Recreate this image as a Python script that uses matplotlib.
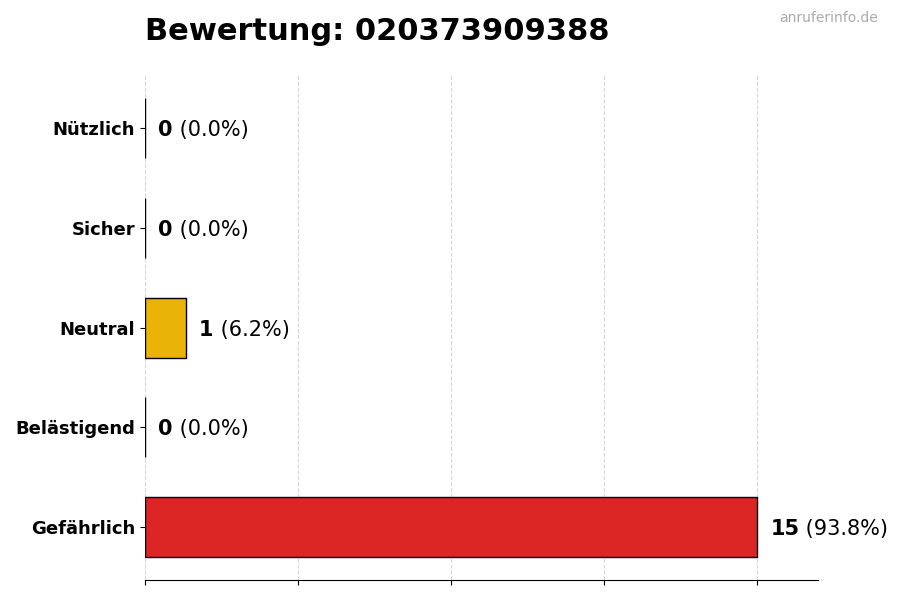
import matplotlib
matplotlib.use("Agg")
import numpy as np
import matplotlib.pyplot as plt

number = "020373909388"
categories = ["Gefährlich", "Belästigend", "Neutral", "Sicher", "Nützlich"]
counts = [15, 0, 1, 0, 0]
colors = ["#dc2626", "#f97316", "#eab308", "#84cc16", "#22c55e"]

total = sum(counts)
max_count = max(counts)

fig, ax = plt.subplots(figsize=(9, 6), dpi=100)
fig.subplots_adjust(left=0.161, right=0.909, top=0.875, bottom=0.033)

y = np.arange(len(categories))
ax.barh(y, counts, height=0.6, color=colors, edgecolor="black", linewidth=1, zorder=3)

# Label: bold count followed by the share in normal weight
for yi, c in zip(y, counts):
    pct = c / total * 100 if total else 0
    t = ax.text(c + max_count * 0.022, yi, str(c), va="center_baseline", ha="left",
                fontsize=15, fontweight="bold", zorder=4)
    ax.annotate(f" ({pct:.1f}%)", xy=(1, 0), xycoords=t, va="bottom", ha="left",
                fontsize=15)

ax.set_yticks(y)
ax.set_yticklabels(categories, fontsize=13, fontweight="bold")
ax.set_xlim(0, max_count * 1.1)
ax.set_xticks(np.linspace(0, max_count, 5))
ax.set_xticklabels([])
ax.grid(axis="x", linestyle="--", color="#cccccc", alpha=0.8, zorder=0)
ax.set_axisbelow(True)

for side in ["top", "right", "left"]:
    ax.spines[side].set_visible(False)

fig.text(0.161, 0.948, f"Bewertung: {number}", fontsize=22, fontweight="bold",
         ha="left", va="center")
fig.text(0.975, 0.970, "anruferinfo.de", fontsize=10, color="#aaaaaa",
         ha="right", va="center")

fig.savefig("out.png", dpi=100)
